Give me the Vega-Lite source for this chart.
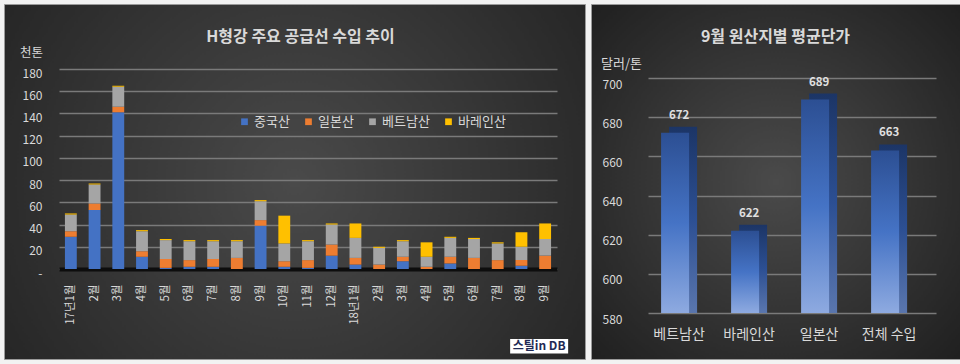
{
  "$schema": "https://vega.github.io/schema/vega-lite/v6.json",
  "background": "#f2f2f2",
  "padding": {"left": 3, "top": 3, "right": 3, "bottom": 6},
  "spacing": 4,
  "config": {
    "font": "Noto Sans CJK KR",
    "view": {
      "stroke": "#9a9a9a",
      "fill": {"gradient": "radial", "x1": 0.5, "y1": 0.5, "r1": 0, "x2": 0.5, "y2": 0.5, "r2": 0.75,
        "stops": [{"offset": 0, "color": "#4a4a4a"}, {"offset": 1, "color": "#1c1c1c"}]}
    },
    "axis": {"labelFont": "Noto Sans CJK KR", "titleFont": "Noto Sans CJK KR", "labelOverlap": false},
    "title": {"font": "Noto Sans CJK KR", "fontSize": 16, "fontWeight": "bold", "color": "#d9d9d9", "frame": "group", "anchor": "middle"}
  },
  "resolve": {"scale": {"color": "independent"}, "legend": {"color": "independent"}},
  "hconcat": [
    {
      "width": 581,
      "height": 355,
      "title": {"text": "H형강 주요 공급선 수입 추이", "offset": -41, "dx": 6},
      "layer": [
        {
          "data": {"values": [
            {"m": "17년1월", "중국산": 29, "일본산": 5, "베트남산": 15, "바레인산": 1},
            {"m": "17년2월", "중국산": 53, "일본산": 6, "베트남산": 17, "바레인산": 1},
            {"m": "17년3월", "중국산": 141, "일본산": 5, "베트남산": 18, "바레인산": 1},
            {"m": "17년4월", "중국산": 11, "일본산": 5, "베트남산": 18, "바레인산": 1},
            {"m": "17년5월", "중국산": 1, "일본산": 8, "베트남산": 17, "바레인산": 1},
            {"m": "17년6월", "중국산": 2, "일본산": 6, "베트남산": 17, "바레인산": 1},
            {"m": "17년7월", "중국산": 2, "일본산": 7, "베트남산": 16, "바레인산": 1},
            {"m": "17년8월", "중국산": 0, "일본산": 10, "베트남산": 15, "바레인산": 1},
            {"m": "17년9월", "중국산": 39, "일본산": 5, "베트남산": 17, "바레인산": 1},
            {"m": "17년10월", "중국산": 2, "일본산": 5, "베트남산": 16, "바레인산": 25},
            {"m": "17년11월", "중국산": 1, "일본산": 7, "베트남산": 17, "바레인산": 1},
            {"m": "17년12월", "중국산": 12, "일본산": 10, "베트남산": 18, "바레인산": 1},
            {"m": "18년1월", "중국산": 4, "일본산": 6, "베트남산": 18, "바레인산": 13},
            {"m": "18년2월", "중국산": 0, "일본산": 4, "베트남산": 15, "바레인산": 1},
            {"m": "18년3월", "중국산": 7, "일본산": 4, "베트남산": 14, "바레인산": 1},
            {"m": "18년4월", "중국산": 0, "일본산": 2, "베트남산": 9, "바레인산": 13},
            {"m": "18년5월", "중국산": 5, "일본산": 6, "베트남산": 17, "바레인산": 1},
            {"m": "18년6월", "중국산": 0, "일본산": 10, "베트남산": 17, "바레인산": 1},
            {"m": "18년7월", "중국산": 0, "일본산": 8, "베트남산": 15, "바레인산": 1},
            {"m": "18년8월", "중국산": 3, "일본산": 5, "베트남산": 12, "바레인산": 13},
            {"m": "18년9월", "중국산": 0, "일본산": 12, "베트남산": 15, "바레인산": 14}
          ]},
          "transform": [{"fold": ["중국산", "일본산", "베트남산", "바레인산"], "as": ["origin", "v"]}],
          "mark": {"type": "bar"},
          "encoding": {
            "x": {
              "field": "m", "type": "nominal", "sort": null,
              "scale": {"range": [55, 553], "paddingInner": 0.5, "paddingOuter": 0.25},
              "axis": {
                "orient": "bottom", "offset": -90, "title": null, "labelAngle": 270,
                "labelPadding": 15, "labelFontSize": 11.5, "labelColor": "#d9d9d9",
                "ticks": false, "domainColor": "#0d0d0d", "domainWidth": 4, "grid": false,
                "labelExpr": "(datum.value == '17년1월' || datum.value == '18년1월') ? datum.value : slice(datum.value, 3)"
              }
            },
            "y": {
              "field": "v", "type": "quantitative", "stack": "zero",
              "scale": {"domain": [0, 180], "range": [265, 65], "nice": false},
              "axis": {
                "offset": -55, "values": [0, 20, 40, 60, 80, 100, 120, 140, 160, 180],
                "title": "천톤", "titleAngle": 0, "titleX": -28, "titleY": 48,
                "titleAlign": "center", "titleBaseline": "middle", "titleFontSize": 12.5,
                "titleFontWeight": "normal", "titleColor": "#d9d9d9",
                "labelColor": "#d9d9d9", "labelFontSize": 12, "labelPadding": 17, "labelOffset": 4,
                "ticks": false, "domain": false, "grid": true, "gridColor": "#7a7a7a", "gridWidth": 1.3,
                "labelExpr": "datum.value == 0 ? '-' : datum.label"
              }
            },
            "color": {
              "field": "origin", "type": "nominal",
              "scale": {"domain": ["중국산", "일본산", "베트남산", "바레인산"], "range": ["#4472c4", "#ed7d31", "#a5a5a5", "#ffc000"]},
              "legend": {
                "title": null, "orient": "none", "legendX": 234, "legendY": 111,
                "direction": "horizontal", "columns": 4, "symbolType": "square", "symbolSize": 45,
                "labelColor": "#d9d9d9", "labelFontSize": 13, "labelOffset": 3, "columnPadding": 12,
                "symbolStrokeWidth": 0
              }
            },
            "order": {"field": "origin", "sort": "descending"}
          }
        },
        {
          "data": {"values": [{"m": "18년9월", "lo": -63, "hi": -76}]},
          "mark": {"type": "bar", "color": "#ffffff", "width": 58, "xOffset": -6},
          "encoding": {
            "x": {"field": "m", "type": "nominal", "sort": null},
            "y": {"field": "lo", "type": "quantitative", "axis": {"values": [0, 20, 40, 60, 80, 100, 120, 140, 160, 180]}},
            "y2": {"field": "hi"}
          }
        },
        {
          "data": {"values": [{"m": "18년9월", "logo": "스틸in DB", "y": -69.5}]},
          "mark": {"type": "text", "color": "#1f2a55", "fontWeight": "bold", "fontSize": 12, "xOffset": -6, "baseline": "middle"},
          "encoding": {
            "x": {"field": "m", "type": "nominal", "sort": null},
            "y": {"field": "y", "type": "quantitative", "axis": {"values": [0, 20, 40, 60, 80, 100, 120, 140, 160, 180]}},
            "text": {"field": "logo"}
          }
        }
      ]
    },
    {
      "width": 369,
      "height": 355,
      "title": {"text": "9월 원산지별 평균단가", "offset": -41},
      "data": {"values": [
        {"o": "베트남산", "p": 672},
        {"o": "바레인산", "p": 622},
        {"o": "일본산", "p": 689},
        {"o": "전체 수입", "p": 663}
      ]},
      "encoding": {
        "x": {
          "field": "o", "type": "nominal", "sort": null,
          "scale": {"range": [57, 345], "paddingInner": 0.55, "paddingOuter": 0.332, "align": 0.33},
          "axis": {
            "orient": "bottom", "offset": -46, "title": null, "labelAngle": 0, "labelPadding": 14,
            "labelFontSize": 14, "labelColor": "#d9d9d9", "ticks": false, "domain": false, "grid": false
          }
        },
        "y": {
          "field": "p", "type": "quantitative",
          "scale": {"domain": [580, 700], "range": [309, 74], "nice": false, "zero": false},
          "axis": {
            "offset": -57, "values": [580, 600, 620, 640, 660, 680, 700],
            "title": "달러/톤", "titleAngle": 0, "titleX": -27, "titleY": 59,
            "titleAlign": "center", "titleBaseline": "middle", "titleFontSize": 13,
            "titleFontWeight": "normal", "titleColor": "#d9d9d9",
            "labelColor": "#d9d9d9", "labelFontSize": 12, "labelPadding": 26, "labelOffset": 6,
            "ticks": false, "domain": false, "grid": true, "gridColor": "#7a7a7a", "gridWidth": 1.3
          }
        }
      },
      "layer": [
        {
          "mark": {"type": "bar", "width": 28, "xOffset": 4, "yOffset": -6,
            "color": {"gradient": "linear", "x1": 0, "y1": 0, "x2": 0, "y2": 1,
              "stops": [{"offset": 0, "color": "#1c3566"}, {"offset": 0.5, "color": "#2c4f93"}, {"offset": 1, "color": "#5a76ad"}]}},
          "encoding": {"y2": {"datum": 580}}
        },
        {
          "mark": {"type": "bar", "width": 28, "xOffset": -4,
            "color": {"gradient": "linear", "x1": 0, "y1": 0, "x2": 0, "y2": 1,
              "stops": [{"offset": 0, "color": "#2c4f93"}, {"offset": 0.5, "color": "#4573c5"}, {"offset": 1, "color": "#8eaae0"}]}},
          "encoding": {"y2": {"datum": 580}}
        },
        {
          "mark": {"type": "text", "baseline": "bottom", "dy": -12, "fontSize": 11.5, "fontWeight": "bold", "color": "#e0e0e0"},
          "encoding": {"text": {"field": "p", "type": "quantitative"}}
        }
      ]
    }
  ]
}
